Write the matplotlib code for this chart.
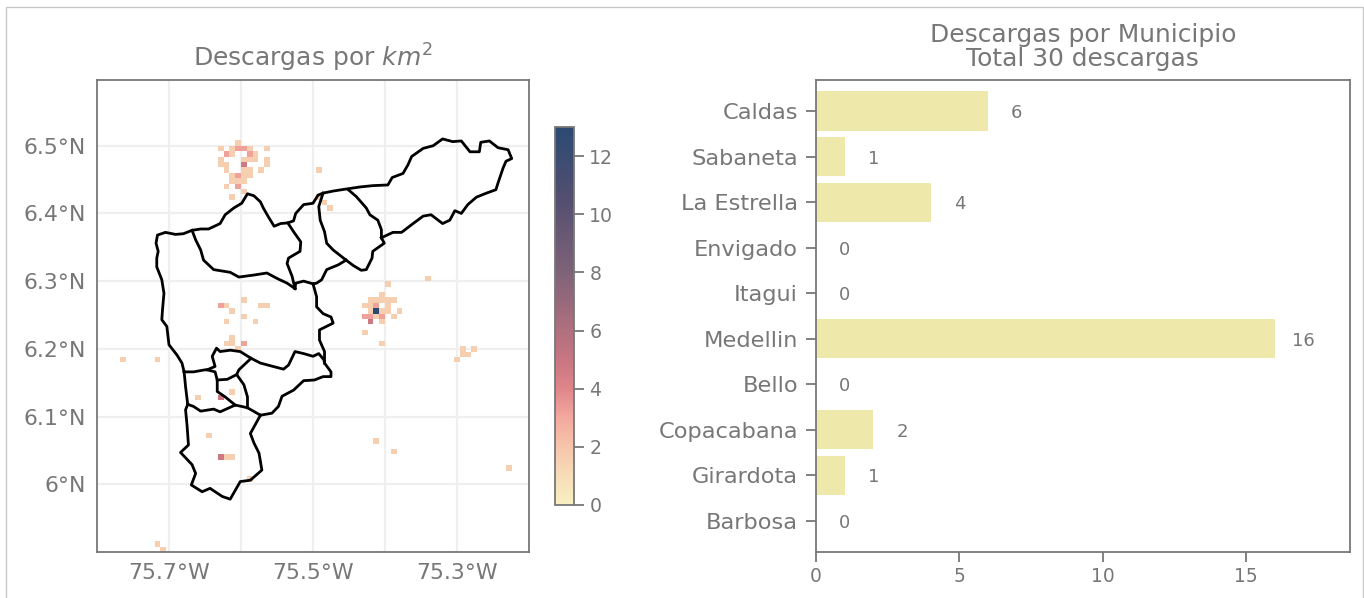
import numpy as np
import matplotlib
matplotlib.use("Agg")
import matplotlib.pyplot as plt
from matplotlib.colors import LinearSegmentedColormap
from matplotlib.patches import Rectangle

GRAY = "#777777"
municipios = ["Barbosa", "Girardota", "Copacabana", "Bello", "Medellin", "Itagui", "Envigado", "La Estrella", "Sabaneta", "Caldas"]
descargas = [0, 1, 2, 0, 16, 0, 0, 4, 1, 6]

cell_step = 0.008
cell_col = [24, 21,23,24,25,26,29, 22,23,26,27, 21,25,26,27,29, 21,22,25,29, 22,25,26,28,38, 23,24,25,26, 23,24,25, 22,24, 25, 23,38, 39, 40,
            57, 50, 49, 47,48,49,50,51,25, 46,47,48,50,21,22,28,29, 47,48,49,50,52,23, 46,47,48,49,51,25, 47,49,22,27, 46, 23,
            49,22,23,25, 63,65,24, 63,64, 62,4,10, 23, 17,21, 19, 48, 51, 21,22,23, 71, 26, 10, 11]
cell_row = [75, 74,74,74,74,74,74, 73,73,73,73, 72,72,72,72,72, 71,71,71,71, 70,70,70,70,70, 69,69,69,69, 68,68,68, 67,67, 66, 65,65, 64, 63,
            50, 49, 47, 46,46,46,46,46,46, 45,45,45,45,45,45,45,45, 44,44,44,44,44,44, 43,43,43,43,43,43, 42,42,42,42, 40, 39,
            38,38,38,38, 37,37,37, 36,36, 35,35,35, 29, 28,28, 21, 20, 18, 17,17,17, 15, 13, 1, 0]
cell_val = [1.6, 1.6,1.6,3.2,3.2,1.6,1.6, 3.2,1.6,3.2,1.6, 1.6,1.6,1.6,1.6,1.6, 1.6,1.6,4.8,1.6, 1.6,1.6,1.6,1.6,1.6, 1.6,3.2,1.6,1.6, 1.6,1.6,1.6, 1.6,3.2, 1.6, 1.6,1.6, 1.6, 1.6,
            1.6, 1.6, 1.6, 1.6,1.6,1.6,1.6,1.6,1.6, 1.6,1.6,3.2,1.6,3.2,1.6,1.6,1.6, 1.6,13,1.6,1.6,1.6,1.6, 3.2,3.2,1.6,3.2,1.6,1.6, 4.8,1.6,1.6,1.6, 1.6, 1.6,
            1.6,1.6,1.6,3.2, 1.6,1.6,1.6, 1.6,1.6, 1.6,1.6,1.6, 1.6, 1.6,4.8, 1.6, 1.6, 1.6, 4.8,1.6,1.6, 1.6, 1.6, 1.6, 1.6]

west_north_east = [(-75.679,6.166),(-75.682,6.179),(-75.689,6.191),(-75.700,6.206),(-75.703,6.233),(-75.710,6.243),(-75.709,6.258),
    (-75.707,6.282),(-75.710,6.302),(-75.717,6.321),(-75.717,6.334),(-75.715,6.344),(-75.718,6.356),(-75.716,6.368),(-75.705,6.372),
    (-75.691,6.369),(-75.680,6.370),(-75.668,6.375),(-75.656,6.377),(-75.645,6.377),(-75.629,6.385),(-75.622,6.398),(-75.610,6.408),
    (-75.599,6.415),(-75.591,6.429),(-75.582,6.426),(-75.573,6.417),(-75.569,6.408),(-75.562,6.395),(-75.554,6.381),(-75.545,6.385),
    (-75.535,6.386),(-75.527,6.389),(-75.524,6.400),(-75.513,6.413),(-75.500,6.415),(-75.493,6.427),(-75.486,6.430),(-75.472,6.433),
    (-75.454,6.436),(-75.435,6.439),(-75.417,6.441),(-75.396,6.442),(-75.390,6.453),(-75.375,6.459),(-75.368,6.472),(-75.363,6.484),
    (-75.347,6.496),(-75.333,6.500),(-75.320,6.510),(-75.306,6.506),(-75.294,6.507),(-75.282,6.491),(-75.269,6.491),(-75.267,6.505),
    (-75.255,6.507),(-75.243,6.497),(-75.229,6.494),(-75.224,6.481),(-75.232,6.477),(-75.236,6.467),(-75.243,6.445),(-75.246,6.435),
    (-75.259,6.430),(-75.273,6.424),(-75.285,6.413),(-75.294,6.400),(-75.303,6.404),(-75.310,6.390),(-75.320,6.385),(-75.336,6.398),
    (-75.347,6.396),(-75.361,6.385),(-75.377,6.372),(-75.389,6.372),(-75.405,6.364)]
barbosa_girardota = [(-75.405,6.364),(-75.405,6.376),(-75.410,6.390),(-75.421,6.398),(-75.426,6.408),(-75.440,6.425),(-75.451,6.435)]
girardota_south = [(-75.405,6.364),(-75.401,6.356),(-75.417,6.344),(-75.418,6.334),(-75.426,6.317),(-75.433,6.316),(-75.444,6.323),
    (-75.454,6.331),(-75.472,6.346),(-75.481,6.356),(-75.484,6.373),(-75.490,6.390),(-75.492,6.410),(-75.486,6.430)]
copacabana_south = [(-75.454,6.331),(-75.465,6.324),(-75.481,6.317),(-75.488,6.302),(-75.495,6.297),(-75.500,6.296),(-75.513,6.300),(-75.524,6.297),(-75.525,6.289)]
medellin_east = [(-75.500,6.296),(-75.495,6.277),(-75.495,6.262),(-75.486,6.252),(-75.475,6.247),(-75.472,6.238),(-75.491,6.228),
    (-75.491,6.213),(-75.484,6.196),(-75.484,6.179),(-75.475,6.166),(-75.475,6.159),(-75.486,6.159),(-75.498,6.154),(-75.513,6.153),
    (-75.527,6.139),(-75.543,6.130),(-75.548,6.115),(-75.557,6.105),(-75.573,6.102)]
copacabana_west = [(-75.535,6.386),(-75.527,6.373),(-75.517,6.358),(-75.518,6.344),(-75.534,6.334),(-75.536,6.326),(-75.529,6.307),(-75.525,6.289)]
bello_south = [(-75.668,6.375),(-75.663,6.361),(-75.656,6.346),(-75.652,6.331),(-75.638,6.317),(-75.615,6.313),(-75.603,6.306),
    (-75.582,6.309),(-75.564,6.312),(-75.550,6.304),(-75.536,6.297),(-75.525,6.289)]
medellin_south = [(-75.679,6.166),(-75.666,6.166),(-75.650,6.169),(-75.647,6.169),(-75.636,6.174),(-75.640,6.189),(-75.634,6.201),
    (-75.629,6.196),(-75.615,6.198),(-75.601,6.196),(-75.586,6.186),(-75.573,6.179),(-75.559,6.175),(-75.541,6.170),(-75.534,6.176),
    (-75.525,6.196),(-75.513,6.193),(-75.500,6.189),(-75.492,6.193),(-75.485,6.184),(-75.484,6.179)]
itagui_west = [(-75.647,6.169),(-75.636,6.166),(-75.633,6.154),(-75.633,6.137),(-75.622,6.129),(-75.608,6.117)]
itagui_south = [(-75.633,6.154),(-75.619,6.155),(-75.606,6.162),(-75.596,6.147),(-75.591,6.129),(-75.591,6.113)]
envigado_west = [(-75.606,6.162),(-75.603,6.169),(-75.586,6.186)]
estrella_west = [(-75.679,6.166),(-75.677,6.144),(-75.674,6.118)]
caldas_north = [(-75.674,6.118),(-75.666,6.115),(-75.656,6.108),(-75.638,6.111),(-75.629,6.107),(-75.608,6.117),(-75.591,6.113),(-75.573,6.102)]
caldas_outer = [(-75.674,6.118),(-75.677,6.110),(-75.675,6.088),(-75.673,6.058),(-75.684,6.047),(-75.668,6.029),(-75.663,6.016),
    (-75.669,5.999),(-75.654,5.989),(-75.643,5.994),(-75.626,5.982),(-75.615,5.978),(-75.601,6.004),(-75.587,6.006),(-75.571,6.021),
    (-75.575,6.046),(-75.582,6.061),(-75.587,6.075),(-75.573,6.102)]
boundaries = [west_north_east, barbosa_girardota, girardota_south, copacabana_south, medellin_east, copacabana_west, bello_south,
              medellin_south, itagui_west, itagui_south, envigado_west, estrella_west, caldas_north, caldas_outer]

W, H = 1364, 598
def box(l, t, r, b):
    return [l / W, 1 - b / H, (r - l) / W, (b - t) / H]

plt.rcParams["font.family"] = "DejaVu Sans"
plt.rcParams["mathtext.fontset"] = "dejavusans"
fig = plt.figure(figsize=(W / 100, H / 100), dpi=100, facecolor="white")
fig.add_artist(Rectangle((5.5 / W, -0.05), (1362.5 - 5.5) / W, 1.05 - 6.5 / H, transform=fig.transFigure,
                         fill=False, ec="#c8c8c8", lw=1))

cmap = LinearSegmentedColormap.from_list("descargas", [(0, "#F8F0C2"), (1 / 13, "#F7DCB8"), (2 / 13, "#F6C5AA"), (3 / 13, "#F3A89E"),
    (4 / 13, "#DF858A"), (5 / 13, "#C87682"), (8 / 13, "#7F6378"), (10.5 / 13, "#544F70"), (1, "#2B4A72")])

ax = fig.add_axes(box(97, 80, 529, 552))
lon_edges = -75.8 + cell_step * np.arange(76)
lat_edges = 5.9 + cell_step * np.arange(89)
grid = np.full((88, 75), np.nan)
for c, r, v in zip(cell_col, cell_row, cell_val):
    grid[r, c] = v
mesh = ax.pcolormesh(lon_edges, lat_edges, np.ma.masked_invalid(grid), cmap=cmap, vmin=0, vmax=13, zorder=2)
for line in boundaries:
    xs, ys = zip(*line)
    ax.plot(xs, ys, color="black", lw=2.0, zorder=3, solid_joinstyle="round")
ax.set_xlim(-75.8, -75.2)
ax.set_ylim(5.9, 6.597)
for v in np.arange(-75.7, -75.25, 0.1):
    ax.axvline(v, color="#efefef", lw=1.6, zorder=1)
for v in np.arange(6.0, 6.55, 0.1):
    ax.axhline(v, color="#efefef", lw=1.6, zorder=1)
ax.set_xticks([-75.7, -75.5, -75.3], ["75.7°W", "75.5°W", "75.3°W"])
ax.set_yticks([6.0, 6.1, 6.2, 6.3, 6.4, 6.5], ["6°N", "6.1°N", "6.2°N", "6.3°N", "6.4°N", "6.5°N"])
ax.tick_params(length=0, labelsize=15.8, labelcolor=GRAY, pad=8)
ax.set_title("Descargas por $km^2$", fontsize=18, color=GRAY, pad=10)
for s in ax.spines.values():
    s.set_color(GRAY); s.set_linewidth(1.3)

cax = fig.add_axes(box(555, 127, 574, 505))
cb = fig.colorbar(mesh, cax=cax, ticks=range(0, 13, 2))
cb.ax.tick_params(labelsize=13.6, labelcolor=GRAY, color=GRAY, length=7, width=1.3, pad=4)
cb.outline.set_edgecolor(GRAY); cb.outline.set_linewidth(1.3)

bx = fig.add_axes(box(816, 80, 1349.5, 552))
y = np.arange(len(municipios))
bx.barh(y, descargas, height=0.86, color="#EEE8AA")
for yi, v in zip(y, descargas):
    bx.text(v + 1.0, yi, str(v), ha="center", va="center_baseline", fontsize=13, color=GRAY)
bx.set_yticks(y, municipios)
bx.set_xlim(0, 18.6)
bx.set_ylim(-0.68, 9.68)
bx.set_xticks([0, 5, 10, 15])
bx.tick_params(axis="y", labelsize=16.2, labelcolor=GRAY, color=GRAY, length=7, width=1.3, pad=6)
bx.tick_params(axis="x", labelsize=13.4, labelcolor=GRAY, color=GRAY, length=7, width=1.3, pad=4)
bx.set_title("Descargas por Municipio\nTotal 30 descargas", fontsize=17.9, color=GRAY, pad=10, linespacing=1.03)
for s in bx.spines.values():
    s.set_color(GRAY); s.set_linewidth(1.3)

fig.savefig("out.png", dpi=100)
